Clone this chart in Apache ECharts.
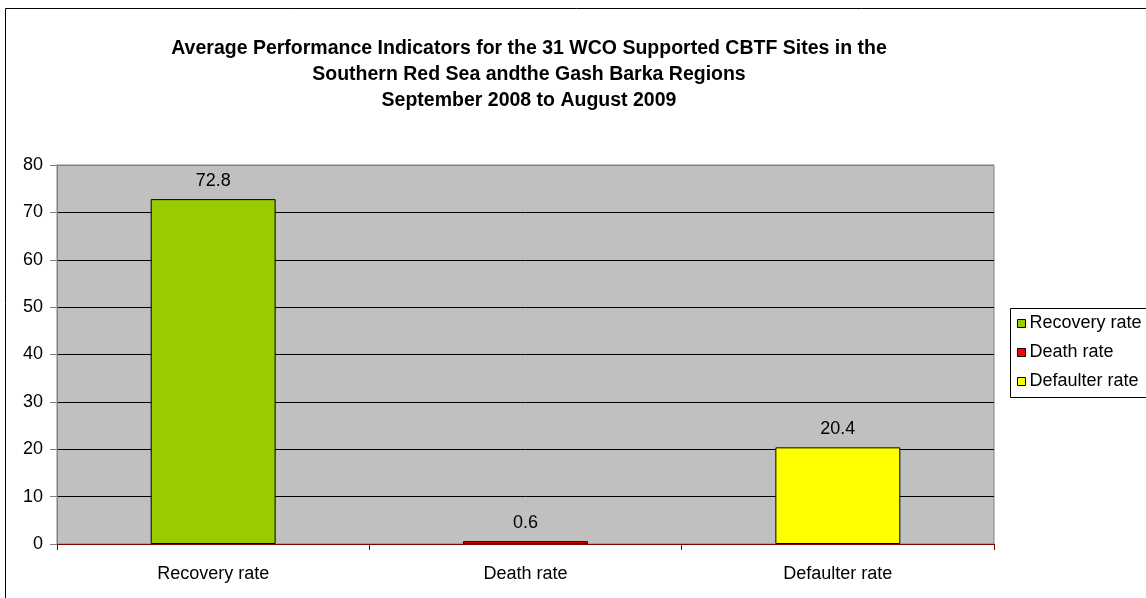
<!DOCTYPE html>
<html>
<head>
<meta charset="utf-8">
<script src="https://cdn.jsdelivr.net/npm/echarts@6/dist/echarts.min.js"></script>
<style>
html,body{margin:0;padding:0;background:#fff;}
#chart{width:1146px;height:598px;}
</style>
</head>
<body>
<div id="chart"></div>
<script>
// 数据
var categories = ['Recovery rate', 'Death rate', 'Defaulter rate']
var recoveryValues = [72.8, '-', '-']
var deathValues = ['-', 0.6, '-']
var defaulterValues = ['-', '-', 20.4]
var yTicks = [0, 10, 20, 30, 40, 50, 60, 70, 80]

var font = 'Arial, "Liberation Sans", sans-serif'
var fs = 18 // 字号

var chart = echarts.init(document.getElementById('chart'))

function barSeries(name, data, color) {
    return {
        name: name,
        type: 'bar',
        stack: 'rates',
        barWidth: '40%',
        data: data,
        itemStyle: {color: color, borderColor: '#000', borderWidth: 1},
        label: {
            show: true,
            position: 'top',
            distance: 9,
            color: '#000',
            fontFamily: font,
            fontSize: fs
        },
        animation: false
    }
}

// 网格线颜色：最上面一条为灰色（与绘图区边框一致）
var splitColors = yTicks.map(function (v, i) {
    return i === yTicks.length - 1 ? '#808080' : '#000'
})

chart.setOption({
    title: {
        text: 'Average Performance Indicators for the 31 WCO Supported CBTF Sites in the\nSouthern Red Sea andthe Gash Barka Regions\nSeptember 2008 to August 2009',
        left: 524,
        textAlign: 'center',
        top: 31,
        textStyle: {
            fontFamily: font,
            fontSize: 19.5,
            fontWeight: 'bold',
            color: '#000',
            lineHeight: 26
        }
    },
    graphic: [{// 外框
        type: 'rect',
        shape: {x: 5.5, y: 8.5, width: 1200, height: 700},
        style: {fill: null, stroke: '#000', lineWidth: 1},
        silent: true
    }, {// 图例框（右侧超出画面）
        type: 'rect',
        shape: {x: 1010.5, y: 308.5, width: 200, height: 89},
        style: {fill: null, stroke: '#000', lineWidth: 1},
        silent: true
    }],
    legend: {
        orient: 'vertical',
        left: 1010,
        top: 308,
        itemWidth: 8,
        itemHeight: 8,
        itemGap: 8,
        padding: [5, 0, 6, 7],
        icon: 'rect',
        itemStyle: {borderColor: '#000', borderWidth: 1},
        textStyle: {fontFamily: font, fontSize: fs, color: '#000', lineHeight: 21, padding: [0, 0, 0, -1]},
        data: categories
    },
    grid: {
        left: 57,
        top: 165,
        width: 937,
        height: 379,
        show: true,
        backgroundColor: '#C0C0C0',
        borderColor: '#808080',
        borderWidth: 1
    },
    xAxis: {
        type: 'category',
        data: categories,
        axisLine: {lineStyle: {color: '#800000', width: 1}},
        axisTick: {show: true, length: 6, lineStyle: {color: '#800000'}},
        axisLabel: {fontFamily: font, fontSize: fs, color: '#000', margin: 21}
    },
    yAxis: {
        type: 'value',
        min: yTicks[0],
        max: yTicks[yTicks.length - 1],
        interval: 10,
        axisLine: {show: true, lineStyle: {color: '#808080'}},
        axisTick: {show: true, length: 7, lineStyle: {color: '#808080'}},
        axisLabel: {fontFamily: font, fontSize: fs, color: '#000', margin: 14},
        splitLine: {lineStyle: {color: splitColors, width: 1}}
    },
    series: [
        barSeries('Recovery rate', recoveryValues, '#99CC00'),
        barSeries('Death rate', deathValues, '#FF0000'),
        barSeries('Defaulter rate', defaulterValues, '#FFFF00')
    ]
})
</script>
</body>
</html>
